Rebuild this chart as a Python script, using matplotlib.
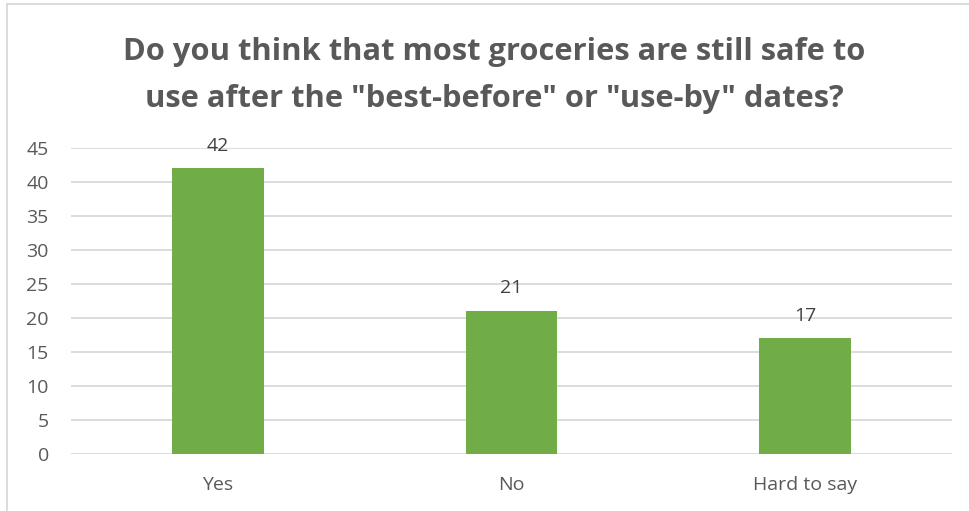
import matplotlib
matplotlib.use("Agg")
import matplotlib.pyplot as plt
from matplotlib.lines import Line2D

categories = ["Yes", "No", "Hard to say"]
counts = [42, 21, 17]
y_ticks = [0, 5, 10, 15, 20, 25, 30, 35, 40, 45]

title = 'Do you think that most groceries are still safe to\nuse after the "best-before" or "use-by" dates?'

W, H = 969, 511
fig = plt.figure(figsize=(W / 100, H / 100), dpi=100)
plt.rcParams["font.family"] = ["Open Sans", "DejaVu Sans"]

text_color = "#595959"
grid_color = "#D9D9D9"
bar_color = "#70AD47"

left, right, bottom, top = 71, 952, 454, 148
ax = fig.add_axes([left / W, 1 - bottom / H, (right - left) / W, (bottom - top) / H])

x = list(range(len(categories)))
ax.bar(x, counts, width=0.313, color=bar_color, zorder=3)
for xi, v in zip(x, counts):
    ax.annotate(str(v), (xi, v), xytext=(0, 10), textcoords="offset points",
                ha="center", va="bottom", fontsize=14, color="#404040")

ax.set_xlim(-0.5, len(categories) - 0.5)
ax.set_ylim(0, 45)
ax.set_yticks(y_ticks)
ax.set_xticks(x)
ax.set_xticklabels(categories)
ax.yaxis.grid(True, color=grid_color, linewidth=1.3, zorder=0)
ax.set_axisbelow(True)
for s in ax.spines.values():
    s.set_visible(False)
ax.tick_params(axis="both", length=0, labelsize=14, colors=text_color)
ax.tick_params(axis="y", pad=16)
ax.tick_params(axis="x", pad=16)

fig.text(494 / W, 1 - 37 / H, title, ha="center", va="top", fontsize=22.2,
         fontweight="bold", color=text_color, linespacing=1.75)

# chart frame edges
fig.add_artist(Line2D([7 / W, 1], [1 - 4 / H, 1 - 4 / H], color=grid_color, linewidth=1.3,
                      transform=fig.transFigure))
fig.add_artist(Line2D([7 / W, 7 / W], [0, 1 - 4 / H], color=grid_color, linewidth=1.3,
                      transform=fig.transFigure))

fig.savefig("out.png", dpi=100, facecolor="white")
